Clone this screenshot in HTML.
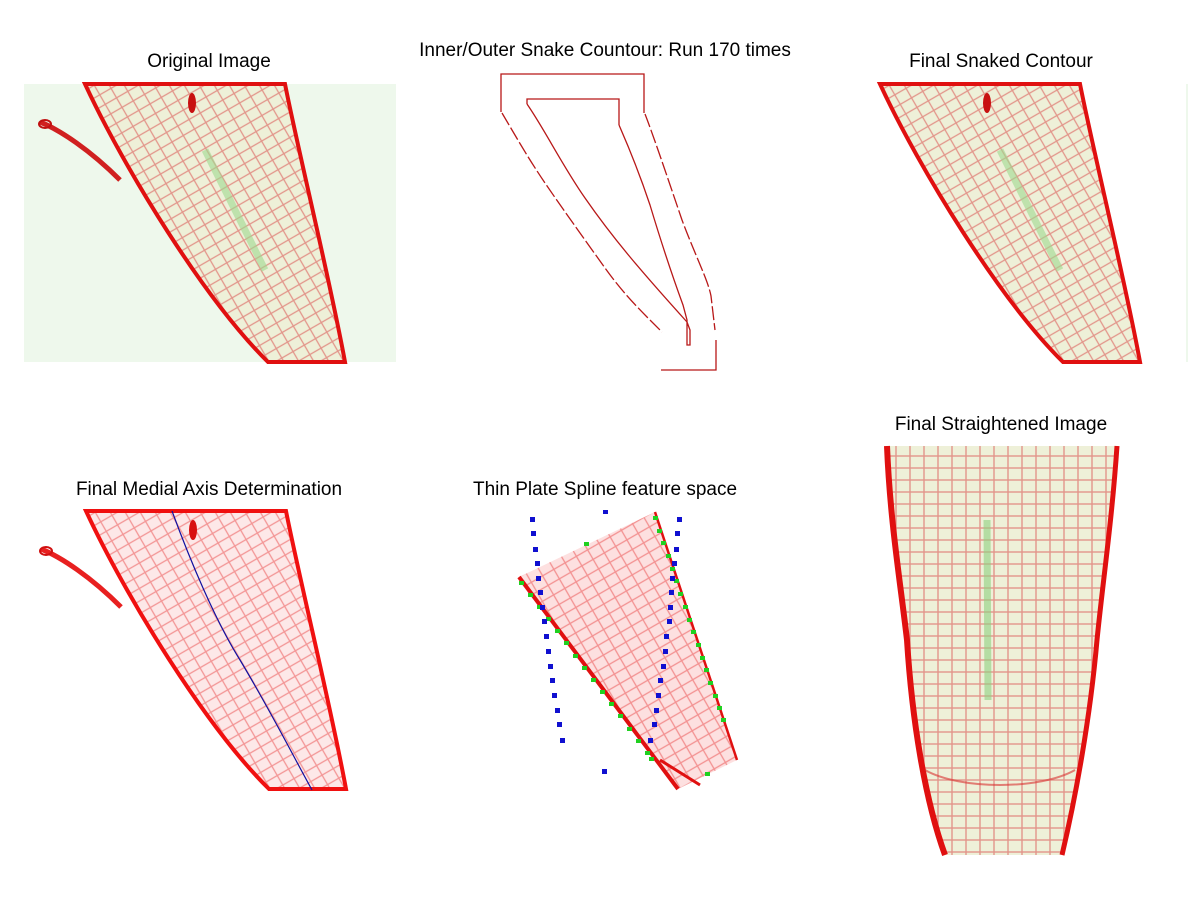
<!DOCTYPE html>
<html><head><style>
html,body{margin:0;padding:0;background:#fff;}
svg{display:block}
text{font-family:"Liberation Sans",sans-serif;font-size:19px;fill:#000;text-anchor:middle}
</style></head><body>
<svg width="1200" height="900" viewBox="0 0 1200 900" xmlns="http://www.w3.org/2000/svg">
<defs>
<pattern id="cells" width="13" height="11" patternUnits="userSpaceOnUse" patternTransform="rotate(-30)">
<rect x="0" y="0" width="13" height="11" fill="none" stroke="#d84a4a" stroke-width="1.3" stroke-opacity="0.55"/>
</pattern>
<pattern id="cellsP" width="13" height="11" patternUnits="userSpaceOnUse" patternTransform="rotate(-30)">
<rect x="0" y="0" width="13" height="11" fill="none" stroke="#e83030" stroke-width="1.3" stroke-opacity="0.45"/>
</pattern>
<pattern id="cellsV" width="14" height="12" patternUnits="userSpaceOnUse">
<rect x="0" y="0" width="14" height="12" fill="none" stroke="#d84a4a" stroke-width="1.4" stroke-opacity="0.55"/>
</pattern>
<path id="root" d="M85,84 L285,84 C298,150 330,280 345,362 L268,362 C205,300 125,170 85,84 Z"/>
<path id="hair" d="M40,122 C60,130 90,150 120,180" fill="none"/>
</defs>

<!-- Panel 1 -->
<text x="209" y="67">Original Image</text>
<rect x="24" y="84" width="372" height="278" fill="#eef8ec"/>
<use href="#root" fill="#eef0d8"/>
<use href="#root" fill="url(#cells)"/>
<use href="#root" fill="none" stroke="#e01010" stroke-width="4"/>
<line x1="205" y1="150" x2="265" y2="270" stroke="#9ed890" stroke-width="7" stroke-opacity="0.6"/>
<ellipse cx="192" cy="103" rx="4" ry="10" fill="#c81010"/>
<use href="#hair" stroke="#d02020" stroke-width="5"/>
<ellipse cx="45" cy="124" rx="6" ry="4" fill="none" stroke="#c01010" stroke-width="2"/>

<!-- Panel 2 -->
<text x="605" y="56">Inner/Outer Snake Countour: Run 170 times</text>
<g fill="none" stroke="#b81818" stroke-width="1.3">
<polyline points="501,112 501,74 644,74 644,113"/>
<path d="M502,113 C515,135 528,158 545,183 C562,208 585,240 605,268 C625,296 645,315 662,332" stroke-dasharray="14,3"/>
<path d="M645,114 C655,140 670,185 682,220 C695,255 708,280 711,296 L715,330" stroke-dasharray="14,3"/>
<polyline points="716,340 716,370 661,370"/>
<polyline points="527,104 527,99 619,99 619,125"/>
<path d="M527,104 C545,130 562,165 585,198 C612,237 640,270 687,322"/>
<path d="M619,125 C630,150 640,175 650,205 C662,245 672,275 683,305 L687,320 L687,345 L690,345 L690,330 L687,322"/>
</g>

<!-- Panel 3 -->
<text x="1001" y="67">Final Snaked Contour</text>
<g transform="translate(795,0)">
<use href="#root" fill="#eef0d8"/>
<use href="#root" fill="url(#cells)"/>
<use href="#root" fill="none" stroke="#e01010" stroke-width="4"/>
<line x1="205" y1="150" x2="265" y2="270" stroke="#9ed890" stroke-width="7" stroke-opacity="0.6"/>
<ellipse cx="192" cy="103" rx="4" ry="10" fill="#c81010"/>
</g>
<line x1="1187" y1="84" x2="1187" y2="362" stroke="#eef8ec" stroke-width="2"/>

<!-- Panel 4 -->
<text x="209" y="495">Final Medial Axis Determination</text>
<g transform="translate(1,427)">
<use href="#root" fill="#fde8e8"/>
<use href="#root" fill="url(#cellsP)"/>
<use href="#root" fill="none" stroke="#f01010" stroke-width="4"/>
<ellipse cx="192" cy="103" rx="4" ry="10" fill="#d81010"/>
<use href="#hair" stroke="#e82020" stroke-width="5"/>
<ellipse cx="45" cy="124" rx="6" ry="4" fill="none" stroke="#d01010" stroke-width="2"/>
</g>
<path d="M172,511 C190,560 215,620 240,660 C270,710 290,750 312,790" fill="none" stroke="#1010a0" stroke-width="1.2"/>

<!-- Panel 5 -->
<text x="605" y="495">Thin Plate Spline feature space</text>
<polygon points="519,577 655,512 737,760 678,789" fill="#fde0e0"/>
<polygon points="519,577 655,512 737,760 678,789" fill="url(#cellsP)"/>
<path d="M519,577 L678,789" stroke="#e01010" stroke-width="4"/>
<path d="M655,512 L737,760" stroke="#e01010" stroke-width="2.5"/>
<path d="M660,760 L700,785" stroke="#e01010" stroke-width="3"/>
<g fill="#20d020">
<rect x="519" y="581" width="5" height="4"/><rect x="528" y="593" width="5" height="4"/><rect x="537" y="605" width="5" height="4"/><rect x="546" y="617" width="5" height="4"/><rect x="555" y="629" width="5" height="4"/><rect x="564" y="641" width="5" height="4"/><rect x="573" y="654" width="5" height="4"/><rect x="582" y="666" width="5" height="4"/><rect x="591" y="678" width="5" height="4"/><rect x="600" y="690" width="5" height="4"/><rect x="609" y="702" width="5" height="4"/><rect x="618" y="714" width="5" height="4"/><rect x="627" y="727" width="5" height="4"/><rect x="636" y="739" width="5" height="4"/><rect x="645" y="751" width="5" height="4"/><rect x="649" y="757" width="5" height="4"/>
<rect x="653" y="516" width="5" height="4"/><rect x="657" y="529" width="5" height="4"/><rect x="661" y="541" width="5" height="4"/><rect x="666" y="554" width="5" height="4"/><rect x="670" y="567" width="5" height="4"/><rect x="674" y="579" width="5" height="4"/><rect x="678" y="592" width="5" height="4"/><rect x="683" y="605" width="5" height="4"/><rect x="687" y="618" width="5" height="4"/><rect x="691" y="630" width="5" height="4"/><rect x="696" y="643" width="5" height="4"/><rect x="700" y="656" width="5" height="4"/><rect x="704" y="668" width="5" height="4"/><rect x="708" y="681" width="5" height="4"/><rect x="713" y="694" width="5" height="4"/><rect x="717" y="706" width="5" height="4"/><rect x="721" y="718" width="5" height="4"/>
<rect x="584" y="542" width="5" height="4"/><rect x="705" y="772" width="5" height="4"/>
</g>
<g fill="#1010d0">
<rect x="530" y="517" width="5" height="5"/><rect x="531" y="531" width="5" height="5"/><rect x="533" y="547" width="5" height="5"/><rect x="535" y="561" width="5" height="5"/><rect x="536" y="576" width="5" height="5"/><rect x="538" y="590" width="5" height="5"/><rect x="540" y="605" width="5" height="5"/><rect x="542" y="619" width="5" height="5"/><rect x="544" y="634" width="5" height="5"/><rect x="546" y="649" width="5" height="5"/><rect x="548" y="664" width="5" height="5"/><rect x="550" y="678" width="5" height="5"/><rect x="552" y="693" width="5" height="5"/><rect x="555" y="708" width="5" height="5"/><rect x="557" y="722" width="5" height="5"/><rect x="560" y="738" width="5" height="5"/>
<rect x="677" y="517" width="5" height="5"/><rect x="675" y="531" width="5" height="5"/><rect x="674" y="547" width="5" height="5"/><rect x="672" y="561" width="5" height="5"/><rect x="670" y="576" width="5" height="5"/><rect x="669" y="590" width="5" height="5"/><rect x="668" y="605" width="5" height="5"/><rect x="667" y="619" width="5" height="5"/><rect x="664" y="634" width="5" height="5"/><rect x="663" y="649" width="5" height="5"/><rect x="661" y="664" width="5" height="5"/><rect x="658" y="678" width="5" height="5"/><rect x="656" y="693" width="5" height="5"/><rect x="654" y="708" width="5" height="5"/><rect x="652" y="722" width="5" height="5"/><rect x="648" y="738" width="5" height="5"/>
<rect x="603" y="510" width="5" height="4"/><rect x="602" y="769" width="5" height="5"/>
</g>

<!-- Panel 6 -->
<text x="1001" y="430">Final Straightened Image</text>
<path d="M887,446 L1117,446 C1112,520 1103,580 1097,640 C1090,720 1075,800 1062,855 L945,855 C925,800 912,720 907,640 C900,580 890,520 887,446 Z" fill="#eef0d8"/>
<path d="M887,446 L1117,446 C1112,520 1103,580 1097,640 C1090,720 1075,800 1062,855 L945,855 C925,800 912,720 907,640 C900,580 890,520 887,446 Z" fill="url(#cellsV)"/>
<path d="M887,446 C890,520 900,580 907,640 C912,720 925,800 945,855" fill="none" stroke="#e01010" stroke-width="6"/>
<path d="M1117,446 C1112,520 1103,580 1097,640 C1090,720 1075,800 1062,855" fill="none" stroke="#e01010" stroke-width="5"/>
<path d="M925,770 C960,790 1040,790 1075,770" fill="none" stroke="#d83030" stroke-width="2" stroke-opacity="0.6"/>
<line x1="987" y1="520" x2="988" y2="700" stroke="#8ed080" stroke-width="7" stroke-opacity="0.6"/>
</svg>
</body></html>
